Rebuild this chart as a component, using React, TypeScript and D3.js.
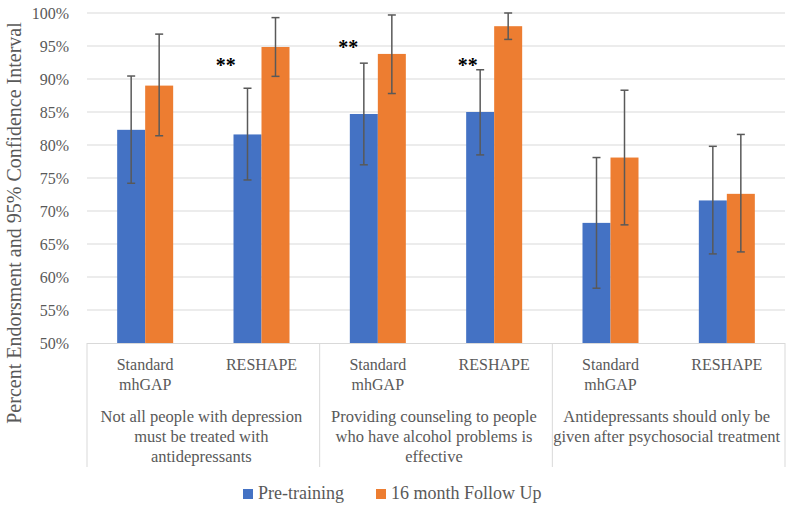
import React from "react";
import * as d3 from "d3";

const categories = ["Standard mhGAP", "RESHAPE", "Standard mhGAP", "RESHAPE", "Standard mhGAP", "RESHAPE"];
const categoryLines = [["Standard", "mhGAP"], ["RESHAPE"], ["Standard", "mhGAP"], ["RESHAPE"], ["Standard", "mhGAP"], ["RESHAPE"]];
const groupLines = [
  ["Not all people with depression", "must be treated with", "antidepressants"],
  ["Providing counseling to people", "who have alcohol problems is", "effective"],
  ["Antidepressants should only be", "given after psychosocial treatment"],
];
const seriesNames = ["Pre-training", "16 month Follow Up"];
const preValues = [82.3, 81.6, 84.7, 85.0, 68.2, 71.6];
const preLow = [74.2, 74.7, 77.0, 78.5, 58.3, 63.5];
const preHigh = [90.45, 88.6, 92.4, 91.4, 78.1, 79.8];
const postValues = [89.0, 94.85, 93.8, 98.0, 78.1, 72.6];
const postLow = [81.4, 90.4, 87.8, 96.0, 67.9, 63.8];
const postHigh = [96.8, 99.3, 99.7, 100, 88.3, 81.6];
const yTicks = [50, 55, 60, 65, 70, 75, 80, 85, 90, 95, 100];
// significance markers: category index, y value (%), offset within band
const starCats = [1, 2, 3];
const starValues = [92.5, 95.2, 92.5];
const starOffsets = [-0.308, -0.254, -0.227];

const W = 793, H = 508;
const FONT = "'Liberation Serif', 'Times New Roman', serif";
const COLORS = ["#4472C4", "#ED7D31"];
const TEXT = "#595959";

export default function App() {
  const x = d3.scaleBand<number>().domain(d3.range(categories.length)).range([87, 785]).paddingInner(0).paddingOuter(0);
  const y = d3.scaleLinear().domain([50, 100]).range([343, 13]);
  const bw = 28;
  const sub = d3.scaleBand<number>().domain([0, 1]).range([-bw, bw]);
  const series = [
    { v: preValues, lo: preLow, hi: preHigh },
    { v: postValues, lo: postLow, hi: postHigh },
  ];
  const cx = (i: number) => (x(i) as number) + x.bandwidth() / 2;
  const groupEdges = [0, 2, 4, 6].map((i) => (i < 6 ? (x(i) as number) : (x(5) as number) + x.bandwidth()));

  return (
    <svg width={W} height={H} style={{ position: "absolute", left: 0, top: 0, background: "#fff" }} fontFamily={FONT}>
      {yTicks.map((t) => (
        <g key={t}>
          {t > 50 && <line x1={87} x2={785} y1={y(t)} y2={y(t)} stroke="#D9D9D9" strokeWidth={1} />}
          <text x={69} y={y(t) + 5.5} textAnchor="end" fontSize={16} fill={TEXT}>{t}%</text>
        </g>
      ))}
      {series.map((s, si) =>
        s.v.map((v, i) => (
          <rect key={`b${si}-${i}`} x={cx(i) + (sub(si) as number)} y={y(v)} width={sub.bandwidth()} height={y(50) - y(v)} fill={COLORS[si]} />
        ))
      )}
      {series.map((s, si) =>
        s.v.map((v, i) => {
          const ex = cx(i) + (sub(si) as number) + sub.bandwidth() / 2;
          return (
            <g key={`e${si}-${i}`} stroke="#595959" strokeWidth={1.5}>
              <line x1={ex} x2={ex} y1={y(s.hi[i])} y2={y(s.lo[i])} />
              <line x1={ex - 4} x2={ex + 4} y1={y(s.hi[i])} y2={y(s.hi[i])} />
              <line x1={ex - 4} x2={ex + 4} y1={y(s.lo[i])} y2={y(s.lo[i])} />
            </g>
          );
        })
      )}
      {starCats.map((c, k) => (
        <text key={`s${k}`} x={cx(c) + starOffsets[k] * x.bandwidth()} y={y(starValues[k]) + 9} textAnchor="middle" fontSize={20} fontWeight="bold" fill="#000">**</text>
      ))}
      {/* category axis */}
      <line x1={87} x2={785} y1={343.5} y2={343.5} stroke="#D9D9D9" strokeWidth={1} />
      {groupEdges.map((gx, k) => (
        <line key={`g${k}`} x1={gx} x2={gx} y1={343} y2={467} stroke="#D9D9D9" strokeWidth={1} />
      ))}
      {categoryLines.map((lines, i) => (
        <text key={`c${i}`} textAnchor="middle" fontSize={16} fill={TEXT}>
          {lines.map((l, j) => (
            <tspan key={j} x={cx(i)} y={369.5 + j * 20.5}>{l}</tspan>
          ))}
        </text>
      ))}
      {groupLines.map((lines, g) => (
        <text key={`gl${g}`} textAnchor="middle" fontSize={16.5} fill={TEXT}>
          {lines.map((l, j) => (
            <tspan key={j} x={(groupEdges[g] + groupEdges[g + 1]) / 2 - 2} y={422 + j * 20}>{l}</tspan>
          ))}
        </text>
      ))}
      {/* legend */}
      {seriesNames.map((n, i) => {
        const lx = [243, 376][i];
        return (
          <g key={`l${i}`}>
            <rect x={lx} y={489} width={10} height={10} fill={COLORS[i]} />
            <text x={lx + 15} y={498.5} fontSize={18} fill={TEXT}>{n}</text>
          </g>
        );
      })}
      <text transform={`translate(20.5,223) rotate(-90)`} textAnchor="middle" fontSize={20} fill={TEXT}>
        Percent Endorsment and 95% Confidence Interval
      </text>
    </svg>
  );
}
